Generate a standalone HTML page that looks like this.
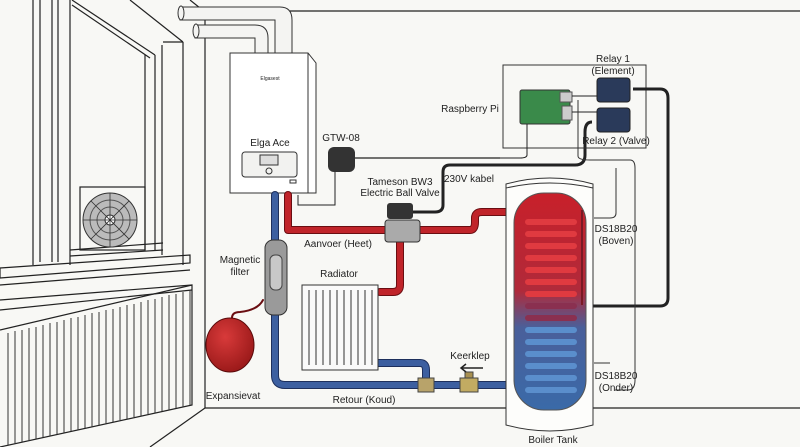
<!DOCTYPE html>
<html><head><meta charset="utf-8"><style>
html,body{margin:0;padding:0;background:#f8f8f5;}
svg{display:block;}
text{font-family:"Liberation Sans",sans-serif;font-size:10px;fill:#222;text-anchor:middle;}
</style></head><body>
<svg width="800" height="447" viewBox="0 0 800 447" xmlns="http://www.w3.org/2000/svg">
<defs>
<linearGradient id="tk" x1="0" y1="0" x2="0" y2="1">
<stop offset="0" stop-color="#c8202a"/><stop offset="0.45" stop-color="#b02a3a"/><stop offset="0.62" stop-color="#4a5f9a"/><stop offset="1" stop-color="#3a6aa8"/></linearGradient>
<radialGradient id="ev" cx="0.4" cy="0.35" r="0.7"><stop offset="0" stop-color="#d83a3a"/><stop offset="1" stop-color="#981818"/></radialGradient>
</defs>
<rect width="800" height="447" fill="#f8f8f5"/>
<g stroke="#222" fill="none" stroke-width="1.2">
<line x1="290" y1="11" x2="800" y2="11"/>
<line x1="205" y1="50" x2="205" y2="408"/>
<line x1="205" y1="408" x2="800" y2="408"/>
<line x1="205" y1="408" x2="150" y2="447"/>
<line x1="130" y1="0" x2="183" y2="42"/>
<line x1="183" y1="42" x2="183" y2="265"/>
<line x1="190" y1="0" x2="205" y2="12"/>
<line x1="205" y1="12" x2="205" y2="50"/>
<line x1="70" y1="0" x2="70" y2="265"/>
<line x1="33" y1="0" x2="33" y2="265"/>
<line x1="40" y1="0" x2="40" y2="262"/>
<line x1="52" y1="0" x2="52" y2="262"/>
<line x1="58" y1="0" x2="58" y2="262"/>
<line x1="72" y1="0" x2="155" y2="55"/>
<line x1="72" y1="5" x2="150" y2="58"/>
<line x1="145" y1="55" x2="145" y2="250"/>
<line x1="155" y1="55" x2="155" y2="250"/>
<line x1="162" y1="45" x2="162" y2="255"/>
<line x1="163" y1="42" x2="183" y2="42"/>
<line x1="70" y1="250" x2="163" y2="243"/>
<line x1="70" y1="256" x2="163" y2="250"/>
<rect x="80" y="187" width="65" height="63"/>
<path d="M0 268 L190 255 L190 263 L0 278 Z"/>
<path d="M0 285 L190 270"/>
<path d="M0 300 L192 285 M0 310 L192 290"/>
<path d="M0 330 L192 285 L192 405 L0 447"/>
</g>
<path stroke="#333" stroke-width="1" fill="none" d="M8 333V445M15 331V444M22 330V442M29 328V441M36 327V439M43 325V437M50 323V436M57 322V434M64 320V433M71 318V431M78 317V430M85 315V428M92 313V427M99 312V425M106 310V424M113 309V422M120 307V420M127 305V419M134 304V417M141 302V416M148 300V414M155 299V413M162 297V411M169 295V410M176 294V408M183 292V407M190 290V405"/>
<circle cx="110" cy="220" r="27" fill="#bbb" stroke="#333"/>
<circle cx="110" cy="220" r="20" fill="none" stroke="#555"/>
<circle cx="110" cy="220" r="13" fill="none" stroke="#555"/>
<circle cx="110" cy="220" r="5" fill="#fff" stroke="#333"/>
<path d="M83 220H137M110 193V247M91 201L129 239M129 201L91 239" stroke="#333" stroke-width="0.8"/>
<g fill="#f4f4f2" stroke="#333" stroke-width="1">
<path d="M180 7 H280 Q292 7 292 20 V53 H275 V20 H180 Z"/>
<path d="M195 25 H255 Q268 25 268 38 V53 H255 V38 H195 Z"/>
<ellipse cx="181" cy="13" rx="3" ry="7"/>
<ellipse cx="196" cy="31" rx="3" ry="7"/>
</g>
<path d="M230 53 H308 L316 63 V193 H230 Z" fill="#fff" stroke="#333"/>
<line x1="308" y1="53" x2="308" y2="193" stroke="#333"/>
<text x="270" y="80" style="font-size:5px">Elgasest</text>
<text x="270" y="146">Elga Ace</text>
<rect x="242" y="152" width="55" height="25" rx="3" fill="#f2f2f0" stroke="#333"/>
<rect x="260" y="155" width="18" height="10" fill="#ddd" stroke="#333"/>
<circle cx="269" cy="171" r="3" fill="none" stroke="#333"/>
<rect x="290" y="180" width="6" height="3" fill="none" stroke="#333"/>
<text x="341" y="141">GTW-08</text>
<rect x="328" y="147" width="27" height="25" rx="6" fill="#333"/>
<path d="M355 158 H500" stroke="#222" stroke-width="1.2" fill="none"/>
<path d="M335 172 V205 H298 V195" stroke="#222" fill="none"/>
<g fill="none" stroke-linecap="round" stroke-linejoin="round">
<path d="M288 195 V230 H385 M420 230 H470 Q475 230 475 222 V218 Q475 212 482 212 H506" stroke="#6a0e12" stroke-width="8"/>
<path d="M288 195 V230 H385 M420 230 H470 Q475 230 475 222 V218 Q475 212 482 212 H506" stroke="#c0242a" stroke-width="6"/>
<path d="M400 240 V285 Q400 292 393 292 H380" stroke="#6a0e12" stroke-width="8"/>
<path d="M400 240 V285 Q400 292 393 292 H380" stroke="#c0242a" stroke-width="6"/>
<path d="M275 195 V375 Q275 385 285 385 H506" stroke="#1d2f5c" stroke-width="8"/>
<path d="M275 195 V375 Q275 385 285 385 H506" stroke="#3c5fa0" stroke-width="6"/>
<path d="M378 363 H420 Q426 363 426 370 V385" stroke="#1d2f5c" stroke-width="8"/>
<path d="M378 363 H420 Q426 363 426 370 V385" stroke="#3c5fa0" stroke-width="6"/>
<path d="M263 300 Q258 310 240 312 Q232 312 232 318" stroke="#6a0e12" stroke-width="2"/>
</g>
<rect x="418" y="378" width="16" height="14" fill="#b8a36a" stroke="#444"/>
<rect x="460" y="378" width="18" height="14" fill="#c2ab62" stroke="#444"/>
<rect x="465" y="372" width="8" height="6" fill="#a89050" stroke="#444"/>
<text x="470" y="359">Keerklep</text>
<path d="M483 368 H462 M466 364 L461 368 L466 372" stroke="#222" stroke-width="1.5" fill="none"/>
<rect x="265" y="240" width="22" height="75" rx="8" fill="#9a9a9a" stroke="#333"/>
<rect x="270" y="255" width="12" height="35" rx="5" fill="#c8c8c8" stroke="#444"/>
<text x="240" y="263">Magnetic</text><text x="240" y="275">filter</text>
<ellipse cx="230" cy="345" rx="24" ry="27" fill="url(#ev)" stroke="#5a0a0a"/>
<text x="233" y="399">Expansievat</text>
<text x="339" y="277">Radiator</text>
<rect x="302" y="285" width="76" height="85" fill="#fafafa" stroke="#333"/>
<path stroke="#333" fill="none" d="M309 290V365M316 290V365M323 290V365M330 290V365M337 290V365M344 290V365M351 290V365M358 290V365M365 290V365M372 290V365"/>
<text x="338" y="247">Aanvoer (Heet)</text>
<text x="364" y="403">Retour (Koud)</text>
<rect x="385" y="220" width="35" height="22" rx="3" fill="#aaa" stroke="#333"/>
<rect x="387" y="203" width="26" height="16" rx="3" fill="#333"/>
<text x="400" y="185">Tameson BW3</text>
<text x="400" y="196">Electric Ball Valve</text>
<path d="M592 122 Q585 122 585 132 V155 Q585 165 575 165 H450 Q443 165 443 172 V205 Q443 212 435 212 H413" stroke="#222" stroke-width="3" fill="none"/>
<text x="469" y="182">230V kabel</text>
<rect x="503" y="65" width="143" height="83" fill="none" stroke="#333"/>
<text x="470" y="112">Raspberry Pi</text>
<rect x="520" y="90" width="50" height="34" rx="2" fill="#3a8a4a" stroke="#333"/>
<rect x="560" y="92" width="12" height="10" fill="#ccc" stroke="#555"/>
<rect x="562" y="106" width="10" height="14" fill="#ccc" stroke="#555"/>
<path d="M527 124 V155 Q527 158 520 158 H355" stroke="#222" fill="none"/>
<path d="M572 96 H597 M572 112 H597" stroke="#222" fill="none"/>
<rect x="597" y="78" width="33" height="24" rx="3" fill="#2a3a5a" stroke="#222"/>
<rect x="597" y="108" width="33" height="24" rx="3" fill="#2a3a5a" stroke="#222"/>
<text x="613" y="62">Relay 1</text><text x="613" y="74">(Element)</text>
<text x="616" y="144">Relay 2 (Valve)</text>
<path d="M633 89 H660 Q668 89 668 98 V298 Q668 306 660 306 H585" stroke="#222" stroke-width="3" fill="none"/>
<path d="M578 100 V156 Q578 160 590 160 H630 Q635 160 635 168 V380 Q635 390 628 390 H615" stroke="#333" fill="none"/>
<path d="M594 218 H610 Q616 218 616 213 V168" stroke="#333" fill="none"/>
<path d="M594 363 H610" stroke="#333" fill="none"/>
<text x="616" y="232">DS18B20</text><text x="616" y="244">(Boven)</text>
<text x="616" y="379">DS18B20</text><text x="616" y="391">(Onder)</text>
<path d="M506 184 Q550 172 593 184 V425 Q550 437 506 425 Z" fill="#fdfdfb" stroke="#333"/>
<path d="M506 188 Q550 178 593 188" stroke="#333" fill="none"/>
<rect x="514" y="193" width="72" height="217" rx="30" fill="url(#tk)" stroke="#555"/>
<g stroke-linecap="round" fill="none">
<g stroke="#e03a40" stroke-width="6"><path d="M528 222 H574 M528 234 H574 M528 246 H574 M528 258 H574 M528 270 H574 M528 282 H574 M528 294 H574"/></g>
<g stroke="#8a3050" stroke-width="6"><path d="M528 306 H574 M528 318 H574"/></g>
<g stroke="#5a8ecc" stroke-width="6"><path d="M528 330 H574 M528 342 H574 M528 354 H574 M528 366 H574 M528 378 H574 M528 390 H574"/></g>
</g>
<path d="M582 210 V305" stroke="#7a1a25" stroke-width="2" fill="none"/>
<text x="553" y="443">Boiler Tank</text>
</svg>
</body></html>
